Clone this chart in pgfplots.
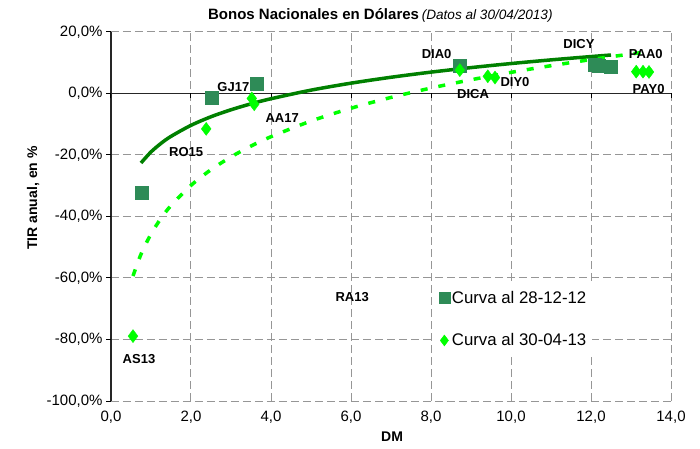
\documentclass[border=0pt]{standalone}
\usepackage{pgfplots}
\pgfplotsset{compat=1.18}
\usepackage{fontspec}
\setmainfont{Liberation Sans}
\definecolor{sqgreen}{RGB}{46,139,87}
\definecolor{trendgreen}{RGB}{0,128,0}
\definecolor{limegreen}{RGB}{0,255,0}
\definecolor{gridgray}{RGB}{150,150,150}
\newcommand\lab[1]{{\fontsize{13bp}{15bp}\selectfont\bfseries #1}}
\begin{document}
\begin{tikzpicture}
\useasboundingbox (-111bp,-48bp) rectangle (589bp,401bp);
\begin{axis}[
  at={(0,0)}, anchor=south west, scale only axis,
  width=560bp, height=369bp,
  xmin=0, xmax=14, ymin=-100, ymax=20,
  clip=false,
  xtick={0,2,4,6,8,10,12,14},
  xticklabels={{0,0},{2,0},{4,0},{6,0},{8,0},{10,0},{12,0},{14,0}},
  ytick={-100,-80,-60,-40,-20,0,20},
  yticklabels={{-100,0\%},{-80,0\%},{-60,0\%},{-40,0\%},{-20,0\%},{0,0\%},{20,0\%}},
  axis line style={draw=none},
  major tick length=0pt,
  ticklabel style={font=\fontsize{15bp}{18bp}\selectfont},
  xticklabel style={yshift=-7bp},
  yticklabel style={xshift=-5bp},
  xlabel={DM},
  xlabel style={at={(axis description cs:0.502,-0.0976)}, anchor=center, font=\fontsize{14bp}{16bp}\selectfont\bfseries},
  ylabel={TIR anual, en \%},
  ylabel style={at={(axis description cs:-0.139,0.55)}, anchor=center, font=\fontsize{14bp}{16bp}\selectfont\bfseries},
  title={{\bfseries\fontsize{15bp}{18bp}\selectfont Bonos Nacionales en Dólares} {\itshape\fontsize{13.6bp}{16bp}\selectfont(Datos al 30/04/2013)}},
  title style={at={(axis description cs:0.481,1.030)}, anchor=center},
  legend style={at={(axis description cs:0.578,0.315)}, anchor=north west, draw=none, fill=white,
    font=\fontsize{16.8bp}{19bp}\selectfont, row sep=25bp, inner sep=4bp},
  legend image post style={mark size=5.5bp},
  legend cell align=left,
]
% grid
\pgfplotsinvokeforeach{2,4,6,8,10,12,14}{\draw[gridgray, line width=1bp, dash pattern=on 8bp off 4bp] (axis cs:#1,-100) -- (axis cs:#1,20);}
\pgfplotsinvokeforeach{-100,-80,-60,-40,-20,20}{\draw[gridgray, line width=1bp, dash pattern=on 8bp off 4bp] (axis cs:0,#1) -- (axis cs:14,#1);}
% axes
\draw[black!85, line width=1.4bp] (axis cs:0,-100) -- (axis cs:0,20);
\draw[black!85, line width=1.3bp] (axis cs:0,0) -- (axis cs:14,0);
\pgfplotsinvokeforeach{0,2,4,6,8,10,12,14}{\draw[black, line width=1bp] (axis cs:#1,0) -- ([yshift=-5bp]axis cs:#1,0);}
\pgfplotsinvokeforeach{-100,-80,-60,-40,-20,0,20}{\draw[black, line width=1bp] (axis cs:0,#1) -- ([xshift=-5bp]axis cs:0,#1);}

\addplot[only marks, mark=square*, mark size=6.5bp, color=sqgreen] coordinates {
 (0.78,-32.1) (2.51,-1.35) (3.63,3.1) (8.72,8.9) (12.1,9.3) (12.2,9.2) (12.5,8.6)
};
\addlegendentry{Curva al 28-12-12}
\addplot[only marks, mark=diamond*, mark size=6.5bp, color=limegreen] coordinates {
 (0.55,-78.9) (2.38,-11.5) (3.52,-1.6) (3.58,-3.5) (8.72,7.6) (9.42,5.6) (9.6,5.2)
 (13.13,7.1) (13.3,7.1) (13.45,7.0)
};
\addlegendentry{Curva al 30-04-13}

\addplot[trendgreen, line width=3.5bp, smooth, forget plot] coordinates {
 (0.75,-22.59) (1.0,-19.0) (1.25,-16.22) (1.5,-13.94) (2.0,-10.35) (2.5,-7.56)
 (3.0,-5.29) (3.5,-3.36) (4.0,-1.70) (5.0,1.09) (6.0,3.36) (7.0,5.28) (8.0,6.95)
 (9.0,8.42) (10.0,9.74) (11.0,10.93) (12.0,12.01) (12.5,12.52)
};
\addplot[limegreen, line width=3.5bp, dash pattern=on 7bp off 11bp, smooth, forget plot] coordinates {
 (0.55,-59.35) (0.75,-52.27) (1.0,-45.7) (1.25,-40.61) (1.5,-36.44) (2.0,-29.88)
 (2.5,-24.78) (3.0,-20.62) (3.5,-17.10) (4.0,-14.05) (5.0,-8.96) (6.0,-4.79)
 (7.0,-1.28) (8.0,1.77) (9.0,4.46) (10.0,6.87) (11.0,9.04) (12.0,11.03)
 (13.0,12.86) (13.45,13.63)
};

\node at (axis cs:0.70,-86.3) {\lab{AS13}};
\node at (axis cs:1.88,-18.9) {\lab{RO15}};
\node at (axis cs:3.06,2.2) {\lab{GJ17}};
\node at (axis cs:4.28,-8.1) {\lab{AA17}};
\node at (axis cs:8.14,12.7) {\lab{DIA0}};
\node at (axis cs:9.05,-0.16) {\lab{DICA}};
\node at (axis cs:10.1,3.8) {\lab{DIY0}};
\node at (axis cs:11.7,16.0) {\lab{DICY}};
\node at (axis cs:13.37,12.7) {\lab{PAA0}};
\node at (axis cs:13.44,1.46) {\lab{PAY0}};
\node at (axis cs:6.03,-66.2) {\lab{RA13}};
\end{axis}
\end{tikzpicture}
\end{document}
